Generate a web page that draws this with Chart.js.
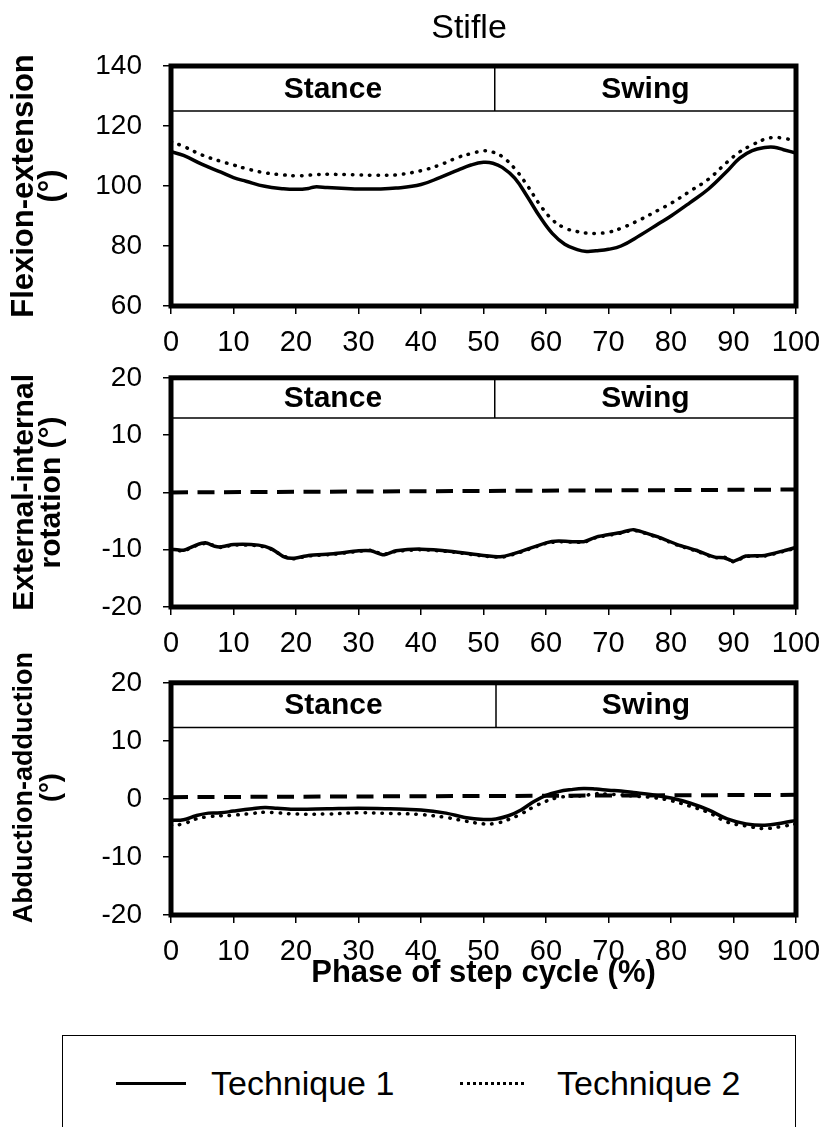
<!DOCTYPE html>
<html>
<head>
<meta charset="utf-8">
<script src="https://cdn.jsdelivr.net/npm/chart.js@4.4.1/dist/chart.umd.min.js"></script>
<style>
  html, body { margin: 0; padding: 0; background: #fff; }
  body { width: 825px; height: 1127px; position: relative; overflow: hidden; font-family: 'Liberation Sans', Arial, sans-serif; }
  canvas { position: absolute; left: 0; }
  #legend { position: absolute; left: 62px; top: 1035px; width: 734px; height: 130px; border: 1.5px solid #000; box-sizing: border-box; }
  .sample { position: absolute; top: 46px; height: 0; }
  .solid { left: 53px; width: 70px; border-top: 3.5px solid #000; }
  .dotted { left: 397px; width: 64px; border-top: 3px dotted #000; }
  .lbl { position: absolute; top: 26px; line-height: 42px; font-size: 34px; color: #000; white-space: nowrap; }
</style>
</head>
<body>
<canvas id="flexChart" width="825" height="362" style="top:0px"></canvas>
<canvas id="rotChart" width="825" height="330" style="top:340px"></canvas>
<canvas id="abdChart" width="825" height="365" style="top:645px"></canvas>
<div id="legend">
  <div class="sample solid"></div><span class="lbl" style="left:148px">Technique 1</span>
  <div class="sample dotted"></div><span class="lbl" style="left:494px">Technique 2</span>
</div>
<script>
// stifle angles over the step cycle
const flexPhase = [0, 2, 5, 8, 10, 12, 15, 18, 20, 22, 23, 25, 28, 30, 33, 36, 40, 43, 46, 48, 50, 51.5, 53, 55, 57, 59, 61, 63, 65, 66.5, 68, 70, 72, 75, 78, 80, 83, 86, 89, 91, 93, 95, 96.5, 98, 100];
const flexTech1 = [111.4, 110.2, 107.2, 104.6, 102.8, 101.6, 99.9, 99.1, 98.9, 99.2, 99.7, 99.5, 99.2, 99.0, 99.0, 99.3, 100.5, 102.8, 105.4, 107.0, 107.9, 107.6, 106.2, 102.6, 96.5, 89.8, 84.2, 80.6, 78.8, 78.2, 78.4, 78.9, 80.0, 83.5, 87.4, 90.0, 94.4, 99.0, 105.0, 109.3, 111.8, 112.8, 112.9, 112.1, 111.0];
const flexTech2 = [114.8, 113.2, 110.3, 108.2, 107.0, 105.8, 104.4, 103.7, 103.4, 103.6, 103.8, 103.9, 103.8, 103.7, 103.6, 103.7, 105.1, 107.0, 109.6, 110.8, 111.7, 111.3, 109.8, 105.8, 100.2, 93.8, 88.8, 86.0, 84.8, 84.3, 84.2, 84.6, 85.9, 88.7, 92.0, 94.2, 98.2, 102.3, 108.0, 111.4, 113.7, 115.6, 116.2, 115.9, 115.1];

const rotPhase = [0, 2, 4, 5.5, 7, 8, 10, 14, 16, 18, 19.5, 22, 26, 30, 32, 34, 36, 40, 45, 50, 53, 56, 60, 62, 66, 68, 72, 74, 78, 81, 84, 87, 88.5, 90, 92, 95, 98, 100];
const rotTech1 = [-9.9, -10.1, -9.2, -8.8, -9.4, -9.5, -9.1, -9.2, -9.8, -11.2, -11.5, -11.0, -10.7, -10.2, -10.2, -10.9, -10.2, -9.9, -10.3, -11.0, -11.2, -10.3, -8.8, -8.5, -8.6, -7.8, -7.0, -6.5, -7.8, -9.1, -10.1, -11.3, -11.4, -12.0, -11.1, -11.0, -10.2, -9.6];
const rotTech2 = [-10.0, -10.2, -9.3, -8.9, -9.3, -9.6, -9.2, -9.3, -9.9, -11.1, -11.6, -11.1, -10.8, -10.3, -10.1, -10.8, -10.3, -10.0, -10.4, -11.1, -11.3, -10.4, -8.9, -8.6, -8.7, -7.9, -7.1, -6.6, -7.9, -9.2, -10.2, -11.4, -11.3, -12.1, -11.2, -11.1, -10.3, -9.7];

const abdPhase = [0, 2, 4, 6, 8, 10, 13, 15, 17, 20, 25, 30, 35, 40, 44, 47, 50, 52, 54, 56, 58, 60, 62, 64, 66, 68, 70, 72, 74, 77, 80, 83, 86, 89, 92, 95, 98, 100];
const abdTech1 = [-3.7, -3.6, -2.9, -2.45, -2.4, -2.1, -1.7, -1.5, -1.6, -1.8, -1.7, -1.6, -1.7, -1.9, -2.45, -3.2, -3.55, -3.45, -2.9, -1.9, -0.5, 0.6, 1.25, 1.6, 1.8, 1.7, 1.5, 1.35, 1.1, 0.7, 0.15, -0.7, -1.9, -3.45, -4.3, -4.55, -4.1, -3.7];
const abdTech2 = [-4.55, -4.3, -3.45, -3.06, -2.9, -2.8, -2.5, -2.3, -2.4, -2.6, -2.6, -2.4, -2.5, -2.7, -3.2, -3.8, -4.3, -4.2, -3.56, -2.6, -1.4, -0.4, 0.25, 0.45, 0.55, 0.9, 0.8, 0.7, 0.5, 0.25, -0.3, -1.24, -2.35, -4.0, -4.66, -5.1, -4.7, -4.3];

// zero reference (dashed)
const zeroPhase = [0, 100];
const rotZero = [0, 0.5];
const abdZero = [0.3, 0.7];

const phaseNames = ['Stance', 'Swing'];
const xTicks = [0, 100, 10];

const FONT = "'Liberation Sans', Arial, sans-serif";

const toPoints = (xs, ys) => xs.map((x, i) => ({ x: x, y: ys[i] }));

// thick frame round the plot area + Stance/Swing labels
const framePlugin = {
    id: 'frame',
    afterDatasetsDraw(chart, args, opts) {
        const { ctx, chartArea: a, scales } = chart;
        ctx.save();
        ctx.fillStyle = '#000';
        ctx.font = 'bold 30px ' + FONT;
        ctx.textAlign = 'center';
        ctx.textBaseline = 'middle';
        const yMid = scales.y.getPixelForValue((opts.band + scales.y.max) / 2);
        ctx.fillText(phaseNames[0], scales.x.getPixelForValue(opts.split / 2), yMid + 1);
        ctx.fillText(phaseNames[1], scales.x.getPixelForValue((opts.split + 100) / 2), yMid + 1);
        ctx.lineWidth = 5;
        ctx.strokeStyle = '#000';
        ctx.strokeRect(a.left, a.top, a.right - a.left, a.bottom - a.top);
        ctx.restore();
    }
};

const titlePlugin = {
    id: 'topTitle',
    afterDraw(chart, args, opts) {
        if (!opts.text) return;
        const ctx = chart.ctx;
        ctx.save();
        ctx.fillStyle = '#000';
        ctx.font = '34px ' + FONT;
        ctx.textAlign = 'center';
        ctx.textBaseline = 'alphabetic';
        ctx.fillText(opts.text, opts.x, opts.y);
        ctx.restore();
    }
};

function makePanel(id, cfg) {
    const datasets = [
        { data: toPoints(cfg.phase, cfg.t1), borderColor: '#000', borderWidth: 3.5, tension: cfg.tension },
        { data: toPoints(cfg.phase, cfg.t2), borderColor: '#000', borderWidth: 3.5, borderDash: [0.5, 8], borderCapStyle: 'round', tension: cfg.tension },
        { data: toPoints([0, 100], [cfg.band, cfg.band]), borderColor: '#000', borderWidth: 1.5 },
        { data: toPoints([cfg.split, cfg.split], [cfg.band, cfg.max]), borderColor: '#000', borderWidth: 1.5 }
    ];
    if (cfg.zero) {
        datasets.push({ data: toPoints(zeroPhase, cfg.zero), borderColor: '#000', borderWidth: 4, borderDash: [17, 9.5] });
    }
    datasets.forEach(d => { d.pointRadius = 0; d.fill = false; });

    return new Chart(document.getElementById(id), {
        type: 'line',
        data: { datasets },
        options: {
            responsive: false,
            animation: false,
            devicePixelRatio: 1,
            layout: { padding: { top: cfg.padTop, right: 29, left: 0, bottom: 0 } },
            plugins: {
                legend: { display: false },
                tooltip: { enabled: false },
                frame: { band: cfg.band, split: cfg.split },
                topTitle: cfg.topTitle || {}
            },
            scales: {
                x: {
                    type: 'linear',
                    min: xTicks[0], max: xTicks[1],
                    ticks: { stepSize: xTicks[2], color: '#000', font: { family: FONT, size: 29 }, padding: 12, maxRotation: 0 },
                    grid: { drawOnChartArea: false, drawTicks: true, tickLength: 8, color: '#000', lineWidth: 1.5 },
                    border: { display: false },
                    title: cfg.xTitle ? { display: true, text: cfg.xTitle, color: '#000', font: { family: FONT, size: 31, weight: 'bold' }, padding: { top: 0, bottom: 18 } } : { display: false },
                    afterFit(scale) {
                        scale.height = cfg.xHeight;
                        scale.paddingLeft = 0;
                        scale.paddingRight = 0;
                    }
                },
                y: {
                    min: cfg.min, max: cfg.max,
                    ticks: { stepSize: cfg.step, color: '#000', font: { family: FONT, size: 28 }, padding: 21 },
                    grid: { drawOnChartArea: false, drawTicks: true, tickLength: 8, color: '#000', lineWidth: 1.5 },
                    border: { display: false },
                    title: { display: true, text: cfg.yTitle, color: '#000', font: { family: FONT, size: cfg.yTitleSize, weight: 'bold', lineHeight: '27px' }, padding: { top: 11, bottom: 0 } },
                    afterFit(scale) { scale.width = 171; }
                }
            }
        },
        plugins: [framePlugin, titlePlugin]
    });
}

makePanel('flexChart', {
    phase: flexPhase, t1: flexTech1, t2: flexTech2, tension: 0.4,
    min: 60, max: 140, step: 20, band: 125, split: 51.8,
    yTitle: ['Flexion-extension', '(°)'], yTitleSize: 31,
    padTop: 66, xHeight: 56,
    topTitle: { text: 'Stifle', x: 469, y: 38 }
});

makePanel('rotChart', {
    phase: rotPhase, t1: rotTech1, t2: rotTech2, tension: 0.2,
    min: -20, max: 20, step: 10, band: 13, split: 51.8, zero: rotZero,
    yTitle: ['External-internal', 'rotation (°)'], yTitleSize: 30,
    padTop: 30, xHeight: 63
});

makePanel('abdChart', {
    phase: abdPhase, t1: abdTech1, t2: abdTech2, tension: 0.4,
    min: -20, max: 20, step: 10, band: 12.3, split: 52, zero: abdZero,
    yTitle: ['   Abduction-adduction', '   (°)'], yTitleSize: 27,
    xTitle: 'Phase of step cycle (%)',
    padTop: 28, xHeight: 95
});
</script>
</body>
</html>
